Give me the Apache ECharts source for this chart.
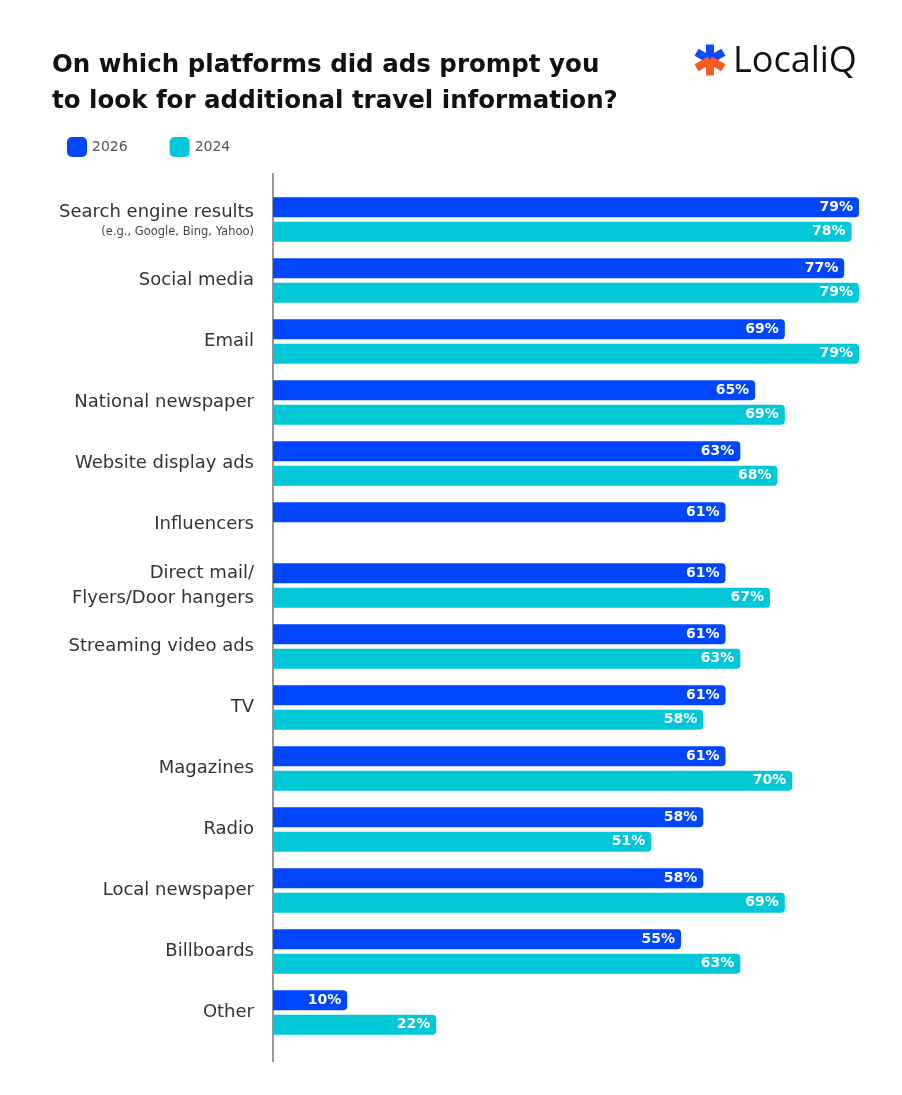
<!DOCTYPE html>
<html>
<head>
    <meta charset="utf-8"/>
    <title>Ads and travel information</title>
    <script src="https://cdn.jsdelivr.net/npm/echarts@6/dist/echarts.min.js"></script>
</head>
<body style="margin:0;background:#fff">
<div id="main" style="width: 902px; height: 1095px;"></div>
<script type="text/javascript">
    // platforms, top to bottom
    var categories = ['Search engine results', 'Social media', 'Email', 'National newspaper',
        'Website display ads', 'Influencers', 'Direct mail/\nFlyers/Door hangers', 'Streaming video ads',
        'TV', 'Magazines', 'Radio', 'Local newspaper', 'Billboards', 'Other'];
    var values2026 = [79, 77, 69, 65, 63, 61, 61, 61, 61, 61, 58, 58, 55, 10];
    var values2024 = [78, 79, 79, 69, 68, '-', 67, 63, 58, 70, 51, 69, 63, 22];

    var BLUE = '#0046ff';
    var CYAN = '#00c8d6';
    var FONT = '"DejaVu Sans", sans-serif';

    var chart = echarts.init(document.getElementById('main'));

    var barLabel = {
        show: true,
        position: 'insideRight',
        distance: 6,
        color: '#fff',
        fontFamily: FONT,
        fontWeight: 'bold',
        fontSize: 14,
        formatter: '{c}%'
    };

    // logo asterisk: six arms, top three blue, bottom three orange
    var arms = [];
    [90, 30, 150, 210, 330, 270].forEach(function (a, i) {
        arms.push({
            type: 'rect',
            x: 710, y: 60,
            originX: 0, originY: 0,
            rotation: a * Math.PI / 180,
            shape: {x: 0, y: -4, width: 15.5, height: 8},
            style: {fill: i < 3 ? '#0a4bff' : '#ff5a1f'}
        });
    });

    var option = {
        backgroundColor: '#fff',
        textStyle: {fontFamily: FONT},
        title: {
            text: 'On which platforms did ads prompt you\nto look for additional travel information?',
            left: 47,
            top: 43,
            textStyle: {
                fontFamily: FONT,
                fontSize: 24.5,
                fontWeight: 'bold',
                color: '#111',
                lineHeight: 36
            }
        },
        legend: {
            left: 62,
            top: 132,
            itemWidth: 20,
            itemHeight: 20,
            itemGap: 42,
            icon: 'roundRect',
            textStyle: {color: '#555', fontSize: 14, fontFamily: FONT},
            data: ['2026', '2024']
        },
        grid: {
            left: 273,
            right: 43,
            top: 189,
            height: 854,
            containLabel: false
        },
        xAxis: {
            type: 'value',
            min: 0,
            max: 79,
            show: false
        },
        yAxis: {
            type: 'category',
            inverse: true,
            data: categories,
            axisLine: {show: false},
            axisTick: {show: false},
            axisLabel: {
                margin: 19,
                color: '#333',
                fontSize: 18,
                lineHeight: 25,
                fontFamily: FONT,
                formatter: function (v) {
                    if (v === 'Search engine results') {
                        return v + '\n{sub|(e.g., Google, Bing, Yahoo)}';
                    }
                    return v;
                },
                rich: {
                    sub: {fontSize: 11.5, color: '#444', lineHeight: 14, fontFamily: FONT}
                }
            }
        },
        graphic: [
            {
                type: 'line',
                shape: {x1: 273, y1: 173, x2: 273, y2: 1062},
                style: {stroke: '#999', lineWidth: 2}
            },
            {
                type: 'text',
                left: 733,
                top: 44,
                style: {text: 'LocaliQ', fontSize: 36, fontFamily: '"Open Sans", sans-serif', fill: '#111'}
            },
            {
                type: 'group',
                children: arms
            }
        ],
        series: [
            {
                name: '2026',
                type: 'bar',
                data: values2026,
                barWidth: 20,
                barGap: '22%',
                itemStyle: {color: BLUE, borderRadius: [0, 4, 4, 0]},
                label: barLabel
            },
            {
                name: '2024',
                type: 'bar',
                data: values2024,
                barWidth: 20,
                itemStyle: {color: CYAN, borderRadius: [0, 4, 4, 0]},
                label: barLabel
            }
        ]
    };

    chart.setOption(option);
</script>
</body>
</html>
